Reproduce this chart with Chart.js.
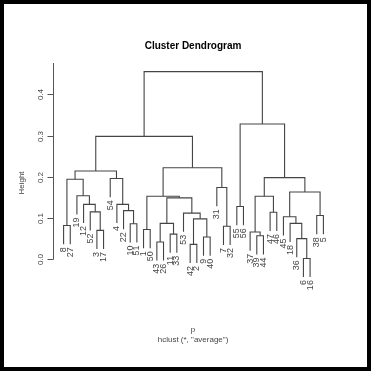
<!DOCTYPE html>
<html>
<head>
<meta charset="utf-8">
<script src="https://cdn.jsdelivr.net/npm/chart.js@4.4.1/dist/chart.umd.min.js"></script>
<style>
  html, body { margin: 0; padding: 0; background: #fff; }
  #wrap { position: relative; width: 371px; height: 371px; }
  #frame { position: absolute; left: 0; top: 0; width: 371px; height: 371px; box-sizing: border-box; border: 4px solid #000; pointer-events: none; }
</style>
</head>
<body>
<div id="wrap">
  <canvas id="dendro" width="371" height="371"></canvas>
  <div id="frame"></div>
</div>
<script>
// hclust merge table (R style): negative = observation, positive = earlier merge step
const mergeLeft = [-6, -42, -43, -36, -9, -39, -11, -37, -3, -1, -7, -8, -10, -18, 3, 2, -45, -38, -53, -47,
  -52, -22, -55, -12, -4, 15, 10, 8, -19, 17, -31, 12, -54, 28, 32, 27, 35, 23, 37];
const mergeRight = [-16, -2, -26, 1, -40, -44, -33, 6, -17, -50, -32, -27, -51, 4, 7, 5, 14, -5, 16, -46,
  9, 13, -56, 21, 22, 19, 26, 20, 24, 18, 11, 29, 25, 30, 33, 31, 36, 34, 38];
const mergeHeight = [0.002, 0.036, 0.042, 0.050, 0.054, 0.057, 0.061, 0.066, 0.070, 0.072, 0.080, 0.082, 0.086,
  0.087, 0.087, 0.098, 0.103, 0.106, 0.112, 0.114, 0.115, 0.118, 0.128, 0.133, 0.133, 0.149, 0.153, 0.153,
  0.154, 0.163, 0.174, 0.194, 0.196, 0.198, 0.214, 0.222, 0.298, 0.328, 0.455];
const yTicks = [0, 0.1, 0.2, 0.3, 0.4];

const titleText = "Cluster Dendrogram";
const yLabel = "Height";
const xLabel = "p";
const subText = 'hclust (*, "average")';

// leaf order from the tree (left branch first)
function leaves(node) {
  if (node < 0) return [-node];
  return leaves(mergeLeft[node - 1]).concat(leaves(mergeRight[node - 1]));
}
const leafOrder = leaves(mergeLeft.length);
const hang = 0.1 * (Math.max(...mergeHeight) - Math.min(...mergeHeight));

const xPos = {};   // position per node key
leafOrder.forEach((id, i) => { xPos["o" + id] = i + 1; });
const leafBottom = {};

function nodeX(n) { return n < 0 ? xPos["o" + (-n)] : xPos["m" + n]; }

const datasets = [];
for (let k = 0; k < mergeHeight.length; k++) {
  const h = mergeHeight[k];
  const a = mergeLeft[k], b = mergeRight[k];
  const xa = nodeX(a), xb = nodeX(b);
  const ha = a < 0 ? h - hang : mergeHeight[a - 1];
  const hb = b < 0 ? h - hang : mergeHeight[b - 1];
  if (a < 0) leafBottom[-a] = ha;
  if (b < 0) leafBottom[-b] = hb;
  xPos["m" + (k + 1)] = (xa + xb) / 2;
  datasets.push({
    data: [{ x: xa, y: ha }, { x: xa, y: h }, { x: xb, y: h }, { x: xb, y: hb }],
    borderColor: "#444",
    borderWidth: 1.1,
    pointRadius: 0,
    fill: false,
    tension: 0,
  });
}

const FONT = '"Liberation Sans", Arial, sans-serif';

const textPlugin = {
  id: "rText",
  afterDraw(chart) {
    const c = chart.ctx;
    const area = chart.chartArea;
    const xs = chart.scales.x, ys = chart.scales.y;
    c.save();
    // y axis
    const ax = Math.round(area.left) + 0.5;
    c.strokeStyle = "#555";
    c.lineWidth = 1;
    c.beginPath();
    c.moveTo(ax, Math.round(ys.getPixelForValue(0)) + 0.5);
    c.lineTo(ax, area.top);
    c.stroke();
    c.fillStyle = "#444";
    c.font = "8px " + FONT;
    yTicks.forEach((t) => {
      const py = Math.round(ys.getPixelForValue(t)) + 0.5;
      c.beginPath();
      c.moveTo(ax - 6, py);
      c.lineTo(ax, py);
      c.stroke();
      c.save();
      c.translate(ax - 13, py);
      c.rotate(-Math.PI / 2);
      c.textAlign = "center";
      c.textBaseline = "middle";
      c.fillText(t.toFixed(1), 0, 0);
      c.restore();
    });
    // leaf labels
    c.font = "9px " + FONT;
    leafOrder.forEach((id) => {
      const px = xs.getPixelForValue(xPos["o" + id]);
      const py = ys.getPixelForValue(leafBottom[id]) + 3;
      c.save();
      c.translate(px, py);
      c.rotate(-Math.PI / 2);
      c.textAlign = "right";
      c.textBaseline = "middle";
      c.fillText(String(id), 0, 0);
      c.restore();
    });
    // y label
    c.font = "8px " + FONT;
    c.save();
    c.translate(22, 183);
    c.rotate(-Math.PI / 2);
    c.textAlign = "center";
    c.textBaseline = "middle";
    c.fillText(yLabel, 0, 0);
    c.restore();
    // x label & sub
    c.textAlign = "center";
    c.textBaseline = "middle";
    c.fillText(xLabel, 193, 330);
    c.fillText(subText, 193, 340);
    // title
    c.fillStyle = "#000";
    c.font = "bold 10px " + FONT;
    c.fillText(titleText, 193, 46);
    c.restore();
  },
};

const ctx = document.getElementById("dendro").getContext("2d");
const chart = new Chart(ctx, {
  type: "line",
  data: { datasets: datasets },
  options: {
    responsive: false,
    animation: false,
    layout: { padding: { left: 53, right: 37, top: 63, bottom: 87 } },
    scales: {
      x: { type: "linear", min: -0.59, max: 41.59, display: false },
      y: { type: "linear", min: -0.06, max: 0.476, display: false },
    },
    plugins: {
      legend: { display: false },
      tooltip: { enabled: false },
    },
  },
  plugins: [textPlugin],
});
</script>
</body>
</html>
